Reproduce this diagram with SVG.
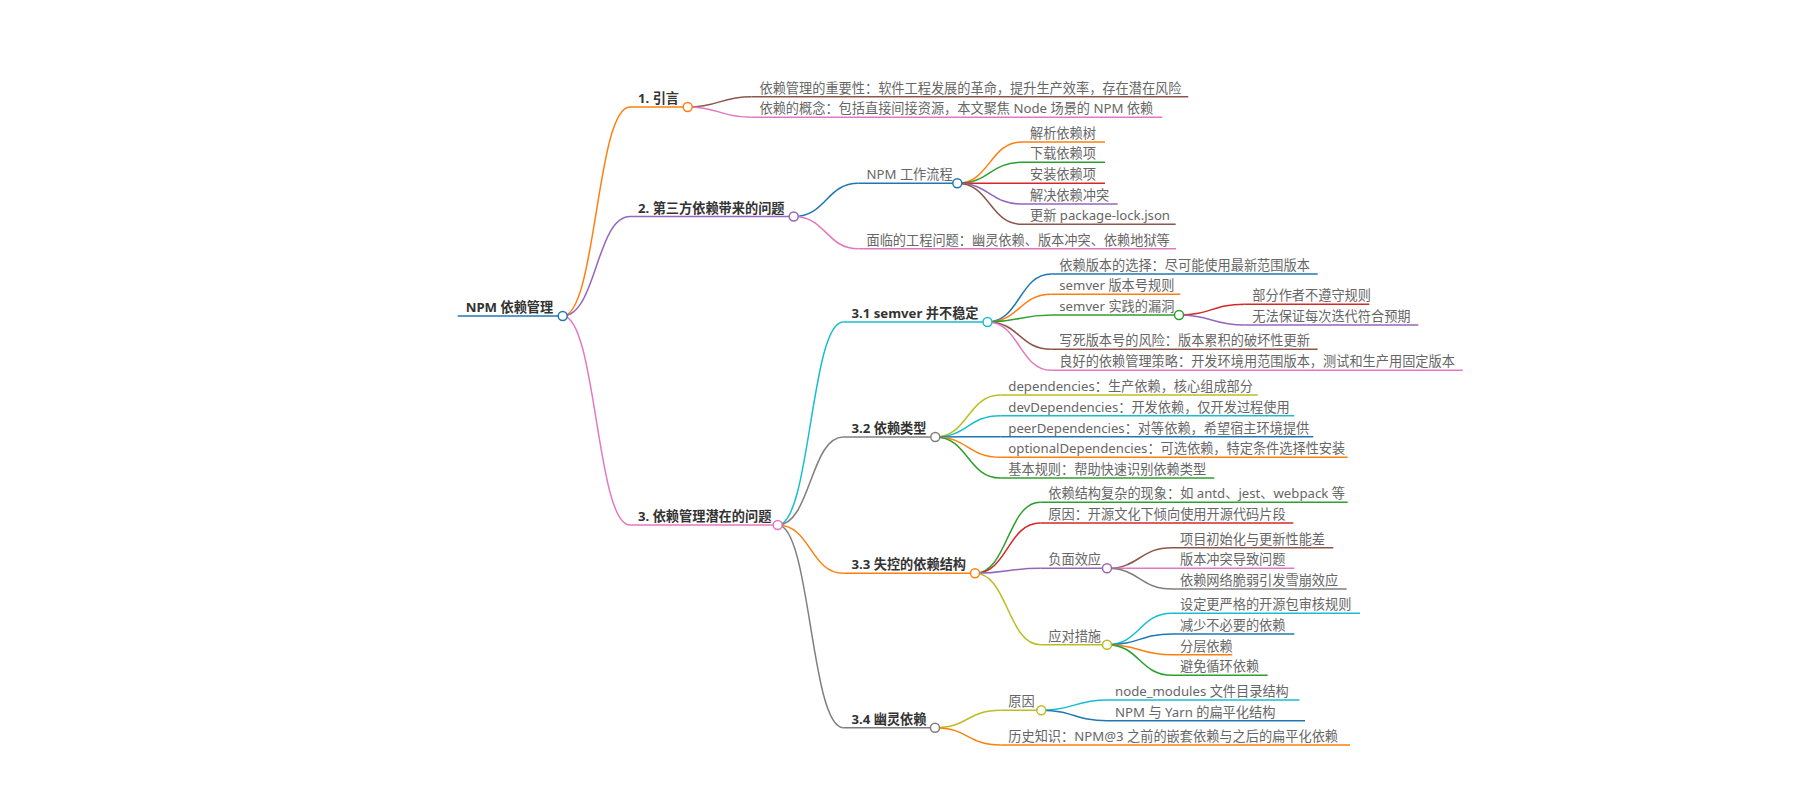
<svg xmlns="http://www.w3.org/2000/svg" width="1800" height="800" viewBox="0 0 1800 800">
<style>
text{font-family:"Noto Sans","Noto Sans CJK SC",sans-serif;font-size:13.2px;fill:#666}
text.b{font-weight:bold;fill:#333}
path,line{fill:none;stroke-width:1.5}
circle{fill:#fff;stroke-width:1.5}
.blue{stroke:#1f77b4}.orange{stroke:#ff7f0e}.green{stroke:#2ca02c}.red{stroke:#d62728}.purple{stroke:#9467bd}
.brown{stroke:#8c564b}.pink{stroke:#e377c2}.gray{stroke:#7f7f7f}.olive{stroke:#bcbd22}.cyan{stroke:#17becf}
</style>
<rect width="1800" height="800" fill="#fff"/>
<g id="connectors">
<path class="orange" d="M562.7,316 C596.35,316 596.35,107 630,107"/>
<path class="purple" d="M562.7,316 C596.35,316 596.35,216.5 630,216.5"/>
<path class="pink" d="M562.7,316 C596.35,316 596.35,525 630,525"/>
<path class="brown" d="M687.7,107 C719.6,107 719.6,96.7 751.5,96.7"/>
<path class="pink" d="M687.7,107 C719.6,107 719.6,117.3 751.5,117.3"/>
<path class="blue" d="M793.7,216.5 C826.1,216.5 826.1,183.3 858.5,183.3"/>
<path class="pink" d="M793.7,216.5 C826.1,216.5 826.1,248.8 858.5,248.8"/>
<path class="orange" d="M957.3,183.3 C989.65,183.3 989.65,142 1022,142"/>
<path class="green" d="M957.3,183.3 C989.65,183.3 989.65,162.3 1022,162.3"/>
<path class="red" d="M957.3,183.3 L1022,183.3"/>
<path class="purple" d="M957.3,183.3 C989.65,183.3 989.65,204 1022,204"/>
<path class="brown" d="M957.3,183.3 C989.65,183.3 989.65,224.3 1022,224.3"/>
<path class="cyan" d="M777.7,525 C810.5,525 810.5,322 843.3,322"/>
<path class="gray" d="M777.7,525 C810.5,525 810.5,437 843.3,437"/>
<path class="orange" d="M777.7,525 C810.5,525 810.5,573.3 843.3,573.3"/>
<path class="gray" d="M777.7,525 C810.5,525 810.5,727.7 843.3,727.7"/>
<path class="blue" d="M987.5,322 C1019.4,322 1019.4,274 1051.3,274"/>
<path class="orange" d="M987.5,322 C1019.4,322 1019.4,294.3 1051.3,294.3"/>
<path class="green" d="M987.5,322 C1019.4,322 1019.4,315 1051.3,315"/>
<path class="brown" d="M987.5,322 C1019.4,322 1019.4,349.3 1051.3,349.3"/>
<path class="pink" d="M987.5,322 C1019.4,322 1019.4,370.3 1051.3,370.3"/>
<path class="red" d="M1179,315 C1211.65,315 1211.65,304.3 1244.3,304.3"/>
<path class="purple" d="M1179,315 C1211.65,315 1211.65,325 1244.3,325"/>
<path class="olive" d="M935.3,437 C967.8,437 967.8,395 1000.3,395"/>
<path class="cyan" d="M935.3,437 C967.8,437 967.8,415.7 1000.3,415.7"/>
<path class="blue" d="M935.3,437 C967.8,437 967.8,436.7 1000.3,436.7"/>
<path class="orange" d="M935.3,437 C967.8,437 967.8,457.3 1000.3,457.3"/>
<path class="green" d="M935.3,437 C967.8,437 967.8,478 1000.3,478"/>
<path class="green" d="M975,573.3 C1007.65,573.3 1007.65,502.3 1040.3,502.3"/>
<path class="red" d="M975,573.3 C1007.65,573.3 1007.65,523 1040.3,523"/>
<path class="purple" d="M975,573.3 C1007.65,573.3 1007.65,568.3 1040.3,568.3"/>
<path class="olive" d="M975,573.3 C1007.65,573.3 1007.65,644.7 1040.3,644.7"/>
<path class="brown" d="M1107,568.3 C1139.5,568.3 1139.5,547.7 1172,547.7"/>
<path class="pink" d="M1107,568.3 L1172,568.3"/>
<path class="gray" d="M1107,568.3 C1139.5,568.3 1139.5,589 1172,589"/>
<path class="cyan" d="M1107,644.7 C1139.5,644.7 1139.5,613.3 1172,613.3"/>
<path class="blue" d="M1107,644.7 C1139.5,644.7 1139.5,634 1172,634"/>
<path class="orange" d="M1107,644.7 C1139.5,644.7 1139.5,654.7 1172,654.7"/>
<path class="green" d="M1107,644.7 C1139.5,644.7 1139.5,675.3 1172,675.3"/>
<path class="olive" d="M935,727.7 C967.65,727.7 967.65,710.3 1000.3,710.3"/>
<path class="orange" d="M935,727.7 C967.65,727.7 967.65,745 1000.3,745"/>
<path class="cyan" d="M1041.3,710.3 C1074.15,710.3 1074.15,700 1107,700"/>
<path class="blue" d="M1041.3,710.3 C1074.15,710.3 1074.15,720.7 1107,720.7"/>
</g>
<g id="n-root"><line class="blue" x1="457.7" y1="316" x2="562.7" y2="316"/><text class="b" x="465.7" y="312">NPM 依赖管理</text><circle class="blue" cx="562.7" cy="316" r="4.5"/></g>
<g id="n-1"><line class="orange" x1="630" y1="107" x2="687.7" y2="107"/><text class="b" x="638" y="103">1. 引言</text><circle class="orange" cx="687.7" cy="107" r="4.5"/></g>
<g id="n-1-1"><line class="brown" x1="751.5" y1="96.7" x2="1188.3" y2="96.7"/><text x="759.5" y="92.7">依赖管理的重要性：软件工程发展的革命，提升生产效率，存在潜在风险</text></g>
<g id="n-1-2"><line class="pink" x1="751.5" y1="117.3" x2="1162.3" y2="117.3"/><text x="759.5" y="113.3">依赖的概念：包括直接间接资源，本文聚焦 Node 场景的 NPM 依赖</text></g>
<g id="n-2"><line class="purple" x1="630" y1="216.5" x2="793.7" y2="216.5"/><text class="b" x="638" y="212.5">2. 第三方依赖带来的问题</text><circle class="purple" cx="793.7" cy="216.5" r="4.5"/></g>
<g id="n-2-1"><line class="blue" x1="858.5" y1="183.3" x2="957.3" y2="183.3"/><text x="866.5" y="179.3">NPM 工作流程</text><circle class="blue" cx="957.3" cy="183.3" r="4.5"/></g>
<g id="n-2-1-1"><line class="orange" x1="1022" y1="142" x2="1105" y2="142"/><text x="1030" y="138">解析依赖树</text></g>
<g id="n-2-1-2"><line class="green" x1="1022" y1="162.3" x2="1105" y2="162.3"/><text x="1030" y="158.3">下载依赖项</text></g>
<g id="n-2-1-3"><line class="red" x1="1022" y1="183.3" x2="1105" y2="183.3"/><text x="1030" y="179.3">安装依赖项</text></g>
<g id="n-2-1-4"><line class="purple" x1="1022" y1="204" x2="1117.7" y2="204"/><text x="1030" y="200">解决依赖冲突</text></g>
<g id="n-2-1-5"><line class="brown" x1="1022" y1="224.3" x2="1175.7" y2="224.3"/><text x="1030" y="220.3">更新 package-lock.json</text></g>
<g id="n-2-2"><line class="pink" x1="858.5" y1="248.8" x2="1176" y2="248.8"/><text x="866.5" y="244.8">面临的工程问题：幽灵依赖、版本冲突、依赖地狱等</text></g>
<g id="n-3"><line class="pink" x1="630" y1="525" x2="777.7" y2="525"/><text class="b" x="638" y="521">3. 依赖管理潜在的问题</text><circle class="pink" cx="777.7" cy="525" r="4.5"/></g>
<g id="n-3-1"><line class="cyan" x1="843.3" y1="322" x2="987.5" y2="322"/><text class="b" x="851.5" y="318">3.1 semver 并不稳定</text><circle class="cyan" cx="987.5" cy="322" r="4.5"/></g>
<g id="n-3-1-1"><line class="blue" x1="1051.3" y1="274" x2="1317.7" y2="274"/><text x="1059.3" y="270">依赖版本的选择：尽可能使用最新范围版本</text></g>
<g id="n-3-1-2"><line class="orange" x1="1051.3" y1="294.3" x2="1180.3" y2="294.3"/><text x="1059.3" y="290.3">semver 版本号规则</text></g>
<g id="n-3-1-3"><line class="green" x1="1051.3" y1="315" x2="1179" y2="315"/><text x="1059.3" y="311">semver 实践的漏洞</text><circle class="green" cx="1179" cy="315" r="4.5"/></g>
<g id="n-3-1-3-1"><line class="red" x1="1244.3" y1="304.3" x2="1369.3" y2="304.3"/><text x="1252.3" y="300.3">部分作者不遵守规则</text></g>
<g id="n-3-1-3-2"><line class="purple" x1="1244.3" y1="325" x2="1418.3" y2="325"/><text x="1252.3" y="321">无法保证每次迭代符合预期</text></g>
<g id="n-3-1-4"><line class="brown" x1="1051.3" y1="349.3" x2="1317.7" y2="349.3"/><text x="1059.3" y="345.3">写死版本号的风险：版本累积的破坏性更新</text></g>
<g id="n-3-1-5"><line class="pink" x1="1051.3" y1="370.3" x2="1462.7" y2="370.3"/><text x="1059.3" y="366.3">良好的依赖管理策略：开发环境用范围版本，测试和生产用固定版本</text></g>
<g id="n-3-2"><line class="gray" x1="843.3" y1="437" x2="935.3" y2="437"/><text class="b" x="851.5" y="433">3.2 依赖类型</text><circle class="gray" cx="935.3" cy="437" r="4.5"/></g>
<g id="n-3-2-1"><line class="olive" x1="1000.3" y1="395" x2="1257.7" y2="395"/><text x="1008.3" y="391">dependencies：生产依赖，核心组成部分</text></g>
<g id="n-3-2-2"><line class="cyan" x1="1000.3" y1="415.7" x2="1294.3" y2="415.7"/><text x="1008.3" y="411.7">devDependencies：开发依赖，仅开发过程使用</text></g>
<g id="n-3-2-3"><line class="blue" x1="1000.3" y1="436.7" x2="1313.3" y2="436.7"/><text x="1008.3" y="432.7">peerDependencies：对等依赖，希望宿主环境提供</text></g>
<g id="n-3-2-4"><line class="orange" x1="1000.3" y1="457.3" x2="1347.7" y2="457.3"/><text x="1008.3" y="453.3">optionalDependencies：可选依赖，特定条件选择性安装</text></g>
<g id="n-3-2-5"><line class="green" x1="1000.3" y1="478" x2="1214.3" y2="478"/><text x="1008.3" y="474">基本规则：帮助快速识别依赖类型</text></g>
<g id="n-3-3"><line class="orange" x1="843.3" y1="573.3" x2="975" y2="573.3"/><text class="b" x="851.5" y="569.3">3.3 失控的依赖结构</text><circle class="orange" cx="975" cy="573.3" r="4.5"/></g>
<g id="n-3-3-1"><line class="green" x1="1040.3" y1="502.3" x2="1347.7" y2="502.3"/><text x="1048.3" y="498.3">依赖结构复杂的现象：如 antd、jest、webpack 等</text></g>
<g id="n-3-3-2"><line class="red" x1="1040.3" y1="523" x2="1293.3" y2="523"/><text x="1048.3" y="519">原因：开源文化下倾向使用开源代码片段</text></g>
<g id="n-3-3-3"><line class="purple" x1="1040.3" y1="568.3" x2="1107" y2="568.3"/><text x="1048.3" y="564.3">负面效应</text><circle class="purple" cx="1107" cy="568.3" r="4.5"/></g>
<g id="n-3-3-3-1"><line class="brown" x1="1172" y1="547.7" x2="1333.3" y2="547.7"/><text x="1180" y="543.7">项目初始化与更新性能差</text></g>
<g id="n-3-3-3-2"><line class="pink" x1="1172" y1="568.3" x2="1294.3" y2="568.3"/><text x="1180" y="564.3">版本冲突导致问题</text></g>
<g id="n-3-3-3-3"><line class="gray" x1="1172" y1="589" x2="1346.7" y2="589"/><text x="1180" y="585">依赖网络脆弱引发雪崩效应</text></g>
<g id="n-3-3-4"><line class="olive" x1="1040.3" y1="644.7" x2="1107" y2="644.7"/><text x="1048.3" y="640.7">应对措施</text><circle class="olive" cx="1107" cy="644.7" r="4.5"/></g>
<g id="n-3-3-4-1"><line class="cyan" x1="1172" y1="613.3" x2="1360" y2="613.3"/><text x="1180" y="609.3">设定更严格的开源包审核规则</text></g>
<g id="n-3-3-4-2"><line class="blue" x1="1172" y1="634" x2="1294.3" y2="634"/><text x="1180" y="630">减少不必要的依赖</text></g>
<g id="n-3-3-4-3"><line class="orange" x1="1172" y1="654.7" x2="1232.3" y2="654.7"/><text x="1180" y="650.7">分层依赖</text></g>
<g id="n-3-3-4-4"><line class="green" x1="1172" y1="675.3" x2="1267.7" y2="675.3"/><text x="1180" y="671.3">避免循环依赖</text></g>
<g id="n-3-4"><line class="gray" x1="843.3" y1="727.7" x2="935" y2="727.7"/><text class="b" x="851.5" y="723.7">3.4 幽灵依赖</text><circle class="gray" cx="935" cy="727.7" r="4.5"/></g>
<g id="n-3-4-1"><line class="olive" x1="1000.3" y1="710.3" x2="1041.3" y2="710.3"/><text x="1008.3" y="706.3">原因</text><circle class="olive" cx="1041.3" cy="710.3" r="4.5"/></g>
<g id="n-3-4-1-1"><line class="cyan" x1="1107" y1="700" x2="1299.5" y2="700"/><text x="1115" y="696">node_modules 文件目录结构</text></g>
<g id="n-3-4-1-2"><line class="blue" x1="1107" y1="720.7" x2="1305" y2="720.7"/><text x="1115" y="716.7">NPM 与 Yarn 的扁平化结构</text></g>
<g id="n-3-4-2"><line class="orange" x1="1000.3" y1="745" x2="1350" y2="745"/><text x="1008.3" y="741">历史知识：NPM@3 之前的嵌套依赖与之后的扁平化依赖</text></g>
</svg>
